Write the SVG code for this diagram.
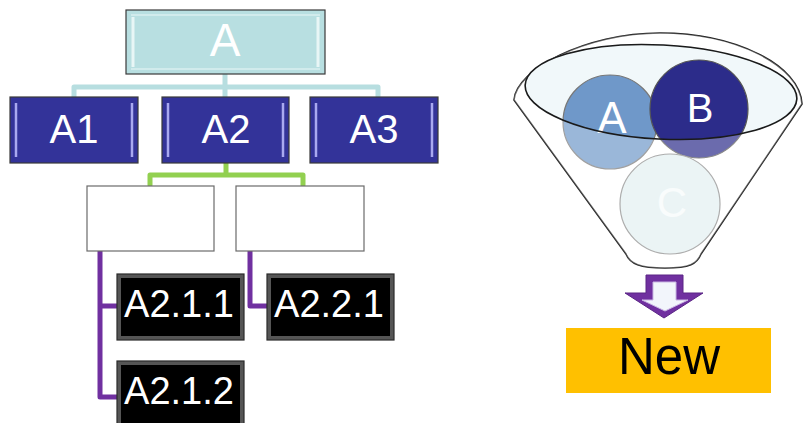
<svg xmlns="http://www.w3.org/2000/svg" width="803" height="423" viewBox="0 0 803 423">
<style>
.t{font-family:"Liberation Sans",Arial,sans-serif;text-anchor:middle}
.w{fill:#fff}
.conn{fill:none;stroke-width:5;stroke-linejoin:round;stroke-linecap:round}
.blue{fill:#333399;stroke:#3a3a3a;stroke-width:1.2}
.hl{stroke:#a9a9f0;stroke-width:2.5}
.blk{fill:#555;stroke:#2a2a2a;stroke-width:1.2}
.wb{fill:#fff;stroke:#6b6b6b;stroke-width:1.2}
</style>
<rect width="803" height="423" fill="#fff"/>
<g id="connectors">
<path class="conn" stroke="#b7dee0" d="M225,74 V87 M74,97 V87 H378 V97 M225,87 V97"/>
<path class="conn" stroke="#92d050" d="M226,163 V175 M150,185 V175 H303 V185"/>
<path class="conn" stroke="#7030a0" d="M100,251 V397 H117 M100,306 H117 M250,251 V306 H267"/>
</g>
<g id="nodeA">
<rect x="126" y="10" width="199" height="64" fill="#b8dfe1" stroke="#3a3a3a" stroke-width="1.2"/>
<path d="M131,15 H320 M131,69 H320" stroke="#d9efef" stroke-width="1.5"/>
<path d="M133,17 V67 M318,17 V67" stroke="#e8f6f6" stroke-width="3"/>
<text class="t w" x="225" y="56" font-size="46">A</text>
</g>
<g id="nodeA1">
<rect class="blue" x="10" y="97" width="128" height="66"/>
<path class="hl" d="M16,103 V157 M132,103 V157"/>
<text class="t w" x="74" y="143" font-size="40">A1</text>
</g>
<g id="nodeA2">
<rect class="blue" x="162" y="97" width="127" height="66"/>
<path class="hl" d="M168,103 V157 M283,103 V157"/>
<text class="t w" x="226" y="143" font-size="40">A2</text>
</g>
<g id="nodeA3">
<rect class="blue" x="310" y="97" width="128" height="66"/>
<path class="hl" d="M316,103 V157 M432,103 V157"/>
<text class="t w" x="374" y="143" font-size="40">A3</text>
</g>
<g id="nodeA21">
<rect class="wb" x="87" y="186" width="127" height="65"/>
</g>
<g id="nodeA22">
<rect class="wb" x="236" y="186" width="128" height="65"/>
</g>
<g id="nodeA211">
<rect class="blk" x="117" y="274" width="127" height="66"/>
<rect x="121" y="278" width="119" height="58" fill="#000"/>
<text class="t w" x="179" y="317" font-size="38">A2.1.1</text>
</g>
<g id="nodeA221">
<rect class="blk" x="267" y="274" width="127" height="66"/>
<rect x="271" y="278" width="119" height="58" fill="#000"/>
<text class="t w" x="329" y="317" font-size="38">A2.2.1</text>
</g>
<g id="nodeA212">
<rect class="blk" x="117" y="361" width="127" height="68"/>
<rect x="121" y="365" width="119" height="62" fill="#000"/>
<text class="t w" x="179" y="404" font-size="38">A2.1.2</text>
</g>
<g id="funnel">
<path d="M514,100 C516,70 585,33 660,33 C735,33 800,65 802,104 L701,254 C697,264 690,268 665,268 C640,268 630,264 626,254 Z" fill="#fff" stroke="#222" stroke-width="1.6" stroke-linejoin="round"/>
<ellipse cx="661" cy="92" rx="136" ry="47" transform="rotate(3 661 92)" fill="#f1f8fa" stroke="#dbe9ee" stroke-width="1"/>
</g>
<g id="ballA">
<circle cx="610" cy="122" r="47" fill="#6f98c9" stroke="#777" stroke-width="1.2"/>
<text class="t w" x="612" y="133" font-size="44">A</text>
</g>
<g id="ballB">
<circle cx="699" cy="109" r="49" fill="#2c2c8a" stroke="#555" stroke-width="1.2"/>
<text class="t w" x="700" y="122" font-size="40">B</text>
</g>
<g id="ballC">
<circle cx="670" cy="204" r="50" fill="#e3f0f1" stroke="#8a8a8a" stroke-width="1.2"/>
<text class="t" x="672" y="217" font-size="42" fill="#f7fbfb">C</text>
</g>
<g id="funnelFront">
<path fill-rule="evenodd" fill="#fff" fill-opacity="0.3" d="M514,100 C516,70 585,33 660,33 C735,33 800,65 802,104 L701,254 C697,264 690,268 665,268 C640,268 630,264 626,254 Z M525,85 A136,47 3 1 0 797,99 A136,47 3 1 0 525,85 Z"/>
<ellipse cx="661" cy="92" rx="136" ry="47" transform="rotate(3 661 92)" fill="none" stroke="#1a1a1a" stroke-width="1.6"/>
</g>
<g id="arrow">
<polygon points="646,275 683,275 683,293 703,293 664,318 625,293 646,293" fill="#7030a0" stroke="#5a2585" stroke-width="1"/>
<polygon points="653,282 676,282 676,300 688,300 665,311 642,300 653,300" fill="#f2f5fb" stroke="#c9b5e3" stroke-width="1"/>
</g>
<g id="nodeNew">
<rect x="566" y="328" width="205" height="65" fill="#ffc000"/>
<text class="t" x="669" y="374" font-size="51" fill="#000">New</text>
</g>
</svg>
